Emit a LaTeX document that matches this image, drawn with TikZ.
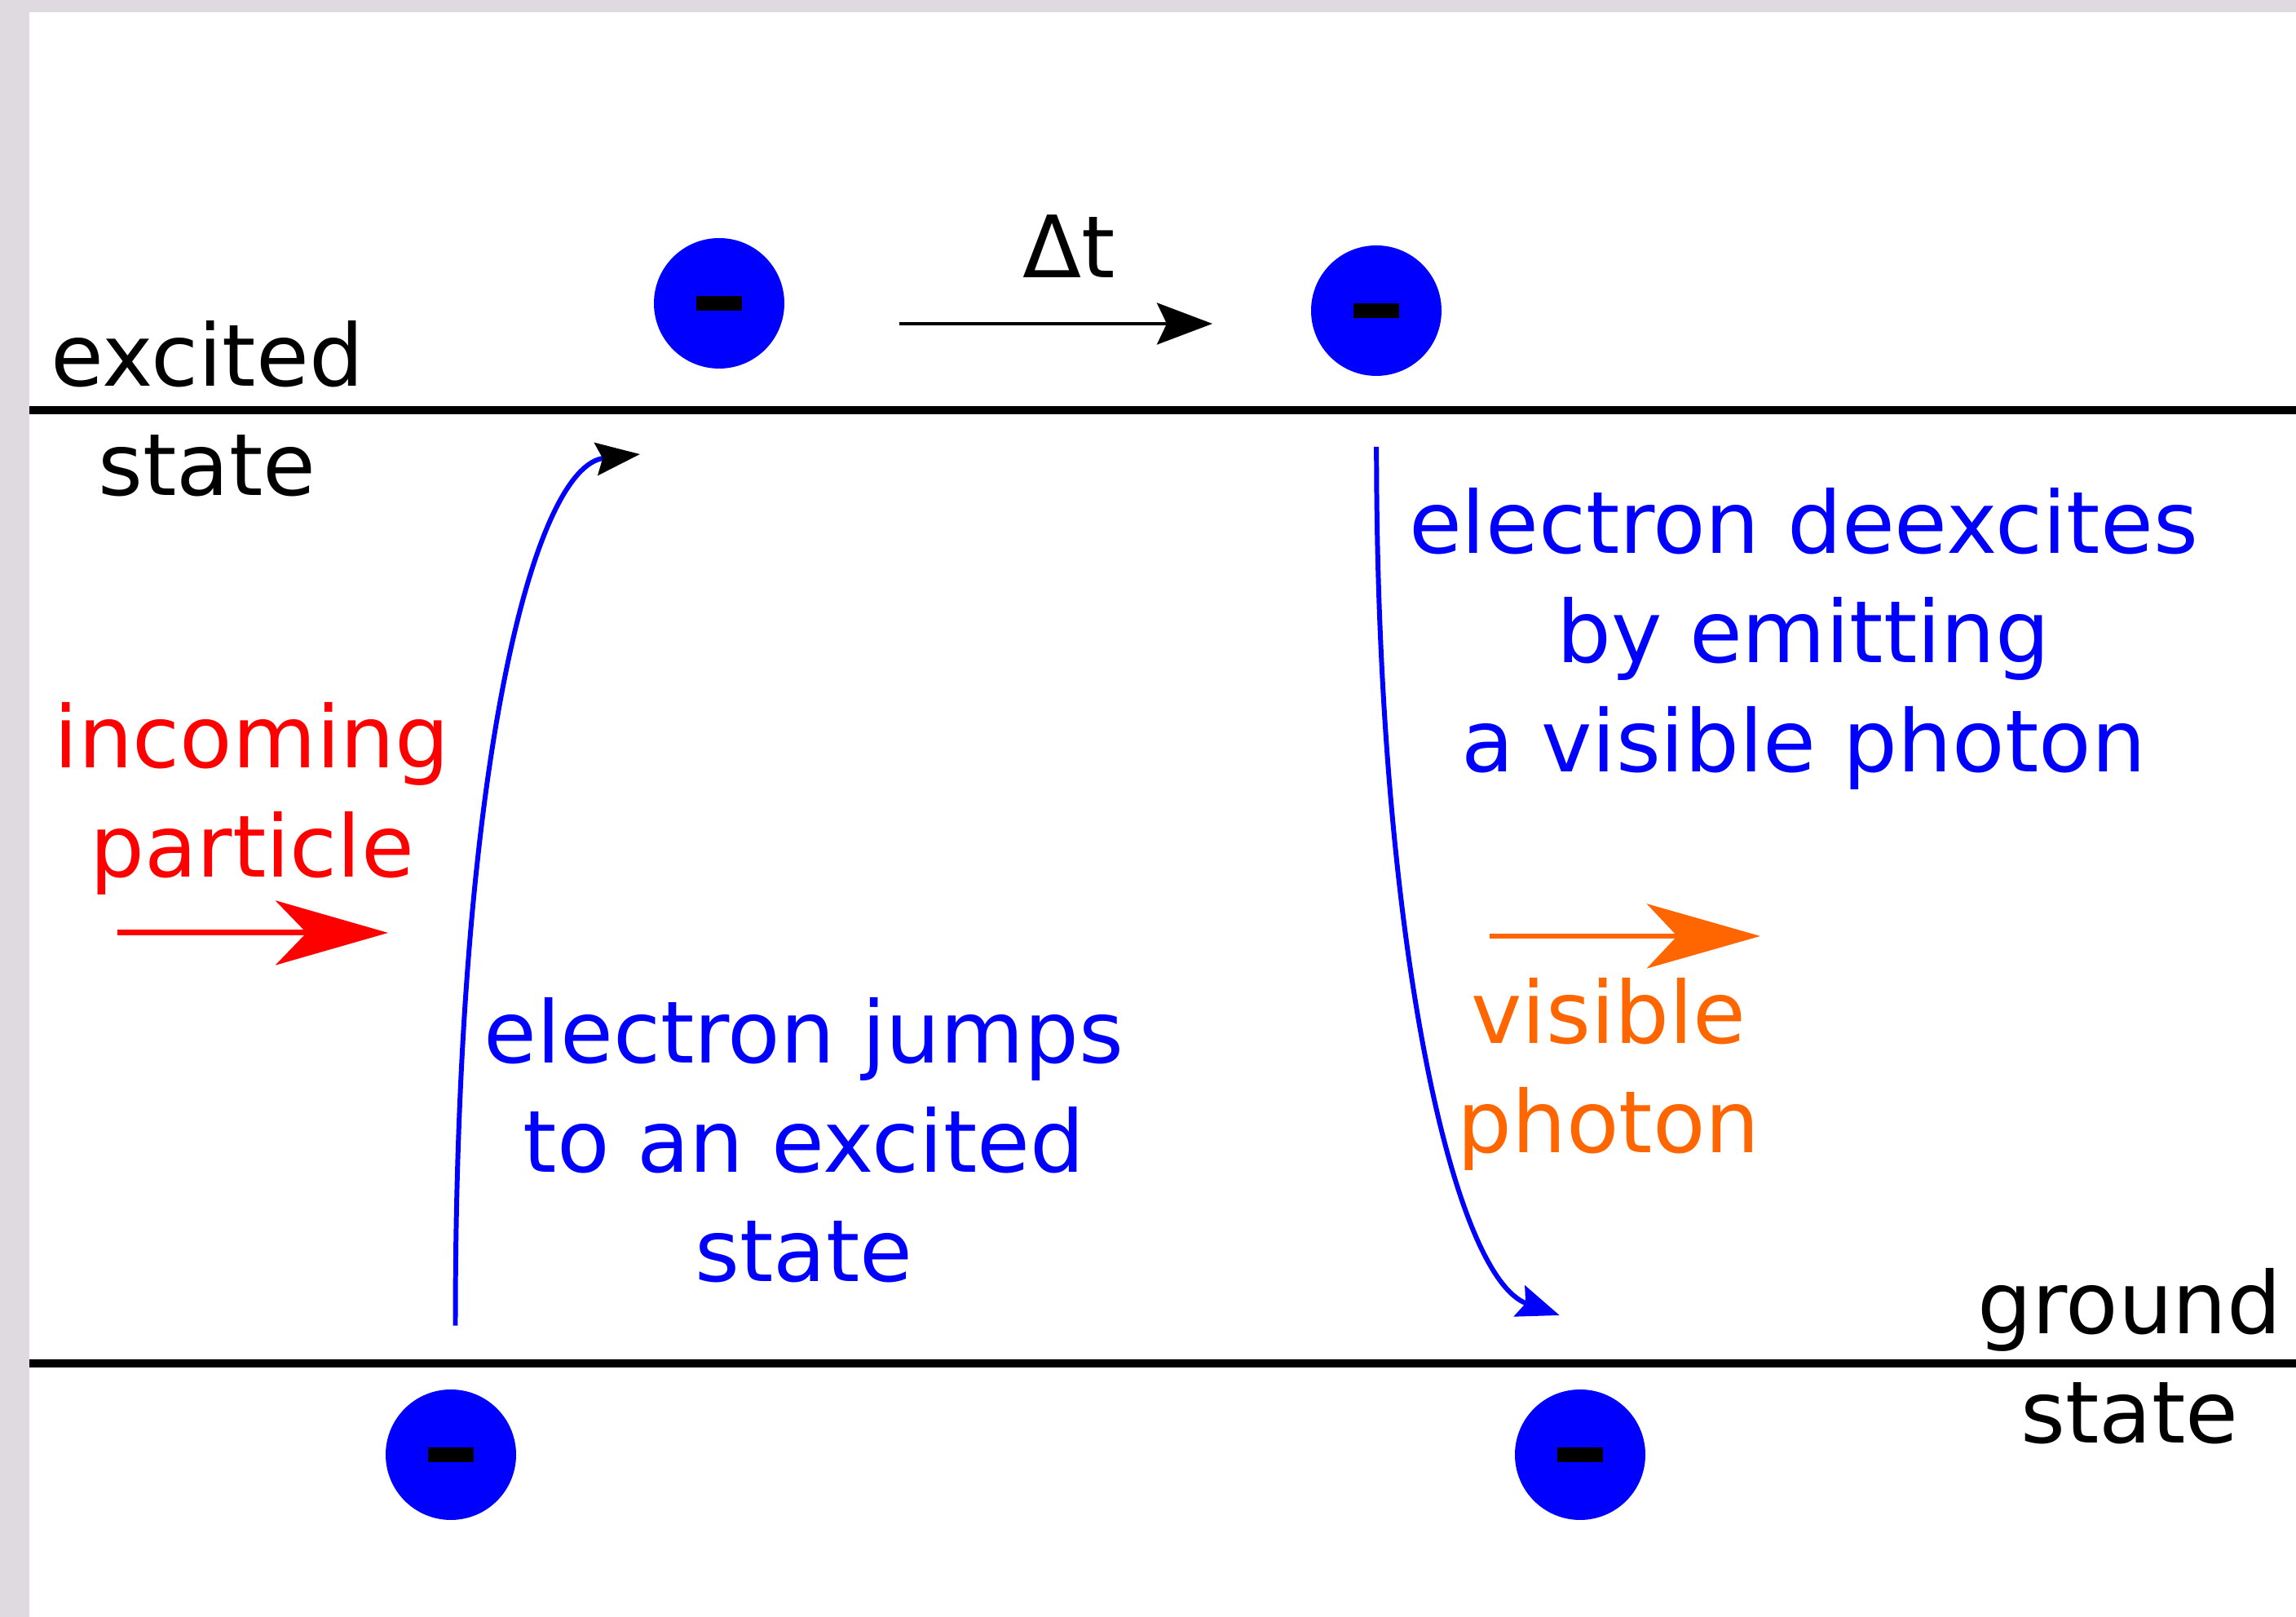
\documentclass[tikz,border=0pt]{standalone}
\usepackage{fontspec}
\setmainfont{DejaVu Sans}
\usetikzlibrary{arrows.meta}
\definecolor{elblue}{HTML}{0000FF}
\definecolor{partred}{HTML}{FF0000}
\definecolor{photorange}{HTML}{FF6600}
\definecolor{bggray}{HTML}{DEDADF}

\begin{document}
\begin{tikzpicture}[font=\fontsize{30}{38.2}\selectfont,
    electron/.style={circle, fill=elblue, minimum size=1.6cm, inner sep=0pt},
    level/.style={line width=2.6pt},
    lbl/.style={align=center, anchor=base, inner sep=0pt},
    jump/.style={elblue, line width=1.7pt}]
  \useasboundingbox (0,0) rectangle (28.16,19.83);
  \fill[bggray] (0,0) rectangle (28.16,19.83);
  \fill[white] (0.36,0) rectangle (28.16,19.68);

  % energy levels
  \draw[level] (0.36,14.80) -- (28.16,14.80);
  \draw[level] (0.36,3.11) -- (28.16,3.11);
  \node[lbl] (excitedlbl) at (2.54,13.75) {excited\\ state};
  \node[lbl] (groundlbl) at (26.12,2.13) {ground\\ state};

  % electrons
  \node[electron] (e1) at (8.82,16.11) {\rule[-0.09cm]{0.56cm}{0.18cm}};
  \node[electron] (e2) at (16.88,16.02) {\rule[-0.09cm]{0.56cm}{0.18cm}};
  \node[electron] (e3) at (5.53,1.99) {\rule[-0.09cm]{0.56cm}{0.18cm}};
  \node[electron] (e4) at (19.38,1.99) {\rule[-0.09cm]{0.56cm}{0.18cm}};

  % time step
  \node[lbl] (dt) at (13.11,16.42) {Δt};
  \coordinate (dtstart) at (11.03,15.86);
  \coordinate (dtend) at (14.87,15.86);
  \draw[line width=1.3pt, -{Stealth[length=0.68cm, width=0.51cm, inset=0.12cm]}] (dtstart) -- (dtend);

  % incoming particle
  \node[lbl, text=partred] (inlbl) at (3.09,9.07) {incoming\\ particle};
  \coordinate (instart) at (1.44,8.39);
  \coordinate (inend) at (4.76,8.39);
  \draw[partred, line width=2pt, -{Stealth[length=1.38cm, width=0.79cm, inset=0.38cm]}] (instart) -- (inend);

  % excitation
  \coordinate (upstart) at (5.585,3.574);
  \coordinate (upend) at (7.849,14.260);
  \draw[jump, -{Stealth[length=0.54cm, width=0.4cm, inset=0.08cm, black]}]
    (upstart) .. controls (5.585,10.489) and (6.555,14.117) .. (upend);
  \node[lbl, text=elblue] (uplbl) at (9.86,4.11) {electron jumps\\ to an excited\\ state};

  % deexcitation
  \coordinate (downstart) at (16.882,14.350);
  \coordinate (downend) at (19.127,3.700);
  \draw[jump, -{Stealth[length=0.52cm, width=0.4cm, inset=0.08cm]}]
    (downstart) .. controls (16.882,8.333) and (17.816,4.167) .. (downend);
  \node[lbl, text=elblue] (downlbl) at (22.12,10.36) {electron deexcites\\ by emitting\\ a visible photon};

  % photon
  \coordinate (phstart) at (18.27,8.35);
  \coordinate (phend) at (21.59,8.35);
  \draw[photorange, line width=1.9pt, -{Stealth[length=1.39cm, width=0.79cm, inset=0.37cm]}] (phstart) -- (phend);
  \node[lbl, text=photorange] (phlbl) at (19.73,5.69) {visible\\ photon};
\end{tikzpicture}
\end{document}
